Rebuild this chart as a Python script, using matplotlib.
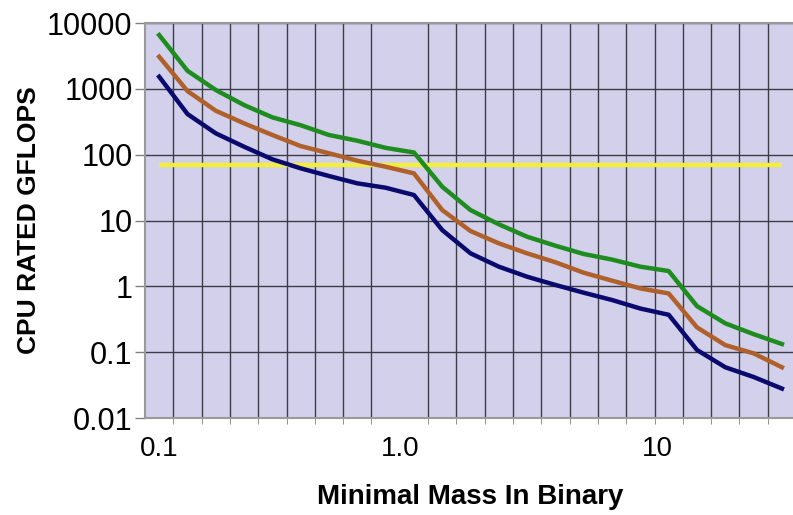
import matplotlib.pyplot as plt
import numpy as np

# categories along the mass axis (evenly spaced categories, as in the original)
n_cat = 23
green = [6560, 1880, 960, 567, 369, 280, 199, 163, 127, 108, 32.6, 14.4, 8.75,
         5.67, 4.14, 3.1, 2.55, 1.99, 1.71, 0.50, 0.274, 0.188, 0.133]
brown = [3076, 926, 465, 299, 199, 135, 105, 81, 65.6, 52, 14.4, 6.92, 4.5,
         3.17, 2.32, 1.61, 1.22, 0.93, 0.78, 0.238, 0.128, 0.096, 0.059]
navy = [1527, 414, 211, 132, 85, 62, 47.4, 36.7, 31.5, 24.4, 7.16, 3.17, 1.99,
        1.40, 1.05, 0.80, 0.62, 0.46, 0.37, 0.108, 0.059, 0.042, 0.028]
threshold = 69

xtick_pos = [0, 8.5, 17.6]
xtick_labels = ['0.1', '1.0', '10']
ytick_vals = [0.01, 0.1, 1, 10, 100, 1000, 10000]
ytick_labels = ['0.01', '0.1', '1', '10', '100', '1000', '10000']

plt.rcParams['font.family'] = ['Liberation Sans', 'DejaVu Sans']

fig = plt.figure(figsize=(7.93, 5.15), dpi=100)
ax = fig.add_axes([0.1829, 0.1883, 0.821, 0.767])
ax.set_facecolor('#d2d0ea')

x = np.arange(n_cat)
ax.plot(x, [threshold] * n_cat, color='#f2ee3c', lw=3.2, solid_capstyle='butt', zorder=3)
ax.plot(x, navy, color='#0a0a6e', lw=3.2, zorder=4)
ax.plot(x, brown, color='#b0602a', lw=3.2, zorder=4)
ax.plot(x, green, color='#1e8c1e', lw=3.2, zorder=4)

ax.set_yscale('log')
ax.set_ylim(0.01, 10000)
ax.set_xlim(-0.5, n_cat - 0.5)

ax.set_yticks(ytick_vals)
ax.set_yticklabels(ytick_labels, fontsize=22)
ax.yaxis.set_minor_locator(plt.NullLocator())
ax.tick_params(axis='y', which='major', length=7, width=1, color='#808080', pad=2)

ax.set_xticks(xtick_pos)
ax.set_xticklabels(xtick_labels, fontsize=20)
ax.set_xticks(np.arange(n_cat - 1) + 0.5, minor=True)
ax.tick_params(axis='x', which='major', length=0, pad=13)
ax.tick_params(axis='x', which='minor', length=4, color='#808080')

ax.grid(True, axis='y', which='major', color='#3c3c46', lw=1)
ax.grid(True, axis='x', which='minor', color='#3c3c46', lw=1)
ax.set_axisbelow(True)

for side in ['left', 'bottom', 'top']:
    ax.spines[side].set_color('#9a9a9a')
    ax.spines[side].set_linewidth(1.5)
ax.spines['right'].set_visible(False)

ax.set_ylabel('CPU RATED GFLOPS', fontsize=19, fontweight='bold', labelpad=4)
ax.set_xlabel('Minimal Mass In Binary', fontsize=20, fontweight='bold', labelpad=16)

fig.savefig('out.png', dpi=100)
